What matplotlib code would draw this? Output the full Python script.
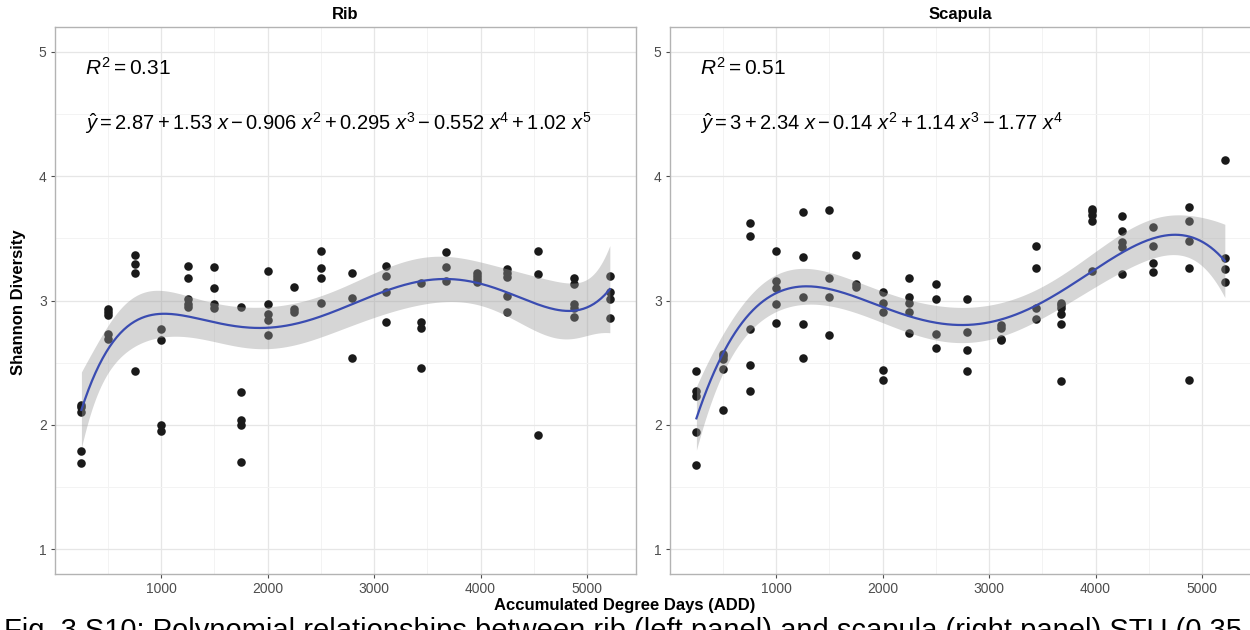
import numpy as np
import matplotlib
matplotlib.use("Agg")
import matplotlib.pyplot as plt
from matplotlib.ticker import MultipleLocator

plt.rcParams['font.family'] = ['Liberation Sans', 'DejaVu Sans']
plt.rcParams['mathtext.fontset'] = 'custom'
plt.rcParams['mathtext.rm'] = 'Liberation Sans'
plt.rcParams['mathtext.it'] = 'Liberation Sans:italic'
plt.rcParams['mathtext.bf'] = 'Liberation Sans:bold'

# sampling points (accumulated degree days)
add = [250, 500, 750, 1000, 1250, 1500, 1750, 2000, 2250, 2500,
       2790, 3110, 3445, 3675, 3970, 4245, 4540, 4875, 5215]

# Shannon diversity per sampling point
rib = [
    [2.16, 2.14, 2.10, 1.79, 1.69],
    [2.93, 2.91, 2.88, 2.73, 2.69],
    [3.37, 3.29, 3.22, 2.43],
    [2.77, 2.68, 2.00, 1.95],
    [3.28, 3.18, 3.01, 2.97, 2.95],
    [3.27, 3.10, 2.97, 2.94],
    [2.95, 2.26, 2.04, 2.00, 1.70],
    [3.24, 2.97, 2.89, 2.84, 2.72],
    [3.11, 2.93, 2.91],
    [3.40, 3.26, 3.18, 2.98],
    [3.22, 3.02, 2.54],
    [3.28, 3.20, 3.07, 2.83],
    [3.14, 2.83, 2.78, 2.46],
    [3.39, 3.27, 3.16],
    [3.22, 3.20, 3.17, 3.15],
    [3.25, 3.22, 3.19, 3.04, 2.91],
    [3.40, 3.21, 1.92],
    [3.18, 3.13, 2.97, 2.94, 2.87],
    [3.20, 3.07, 3.01, 2.86],
]

scapula = [
    [2.43, 2.27, 2.23, 1.94, 1.68],
    [2.57, 2.55, 2.53, 2.45, 2.12],
    [3.62, 3.52, 2.77, 2.48, 2.27],
    [3.40, 3.16, 3.10, 2.97, 2.82],
    [3.71, 3.35, 3.03, 2.81, 2.54],
    [3.73, 3.18, 3.03, 2.72],
    [3.37, 3.13, 3.11],
    [3.07, 2.98, 2.91, 2.44, 2.36],
    [3.18, 3.03, 2.98, 2.91, 2.74],
    [3.13, 3.01, 2.73, 2.62],
    [3.01, 2.75, 2.60, 2.43],
    [2.80, 2.78, 2.69, 2.68],
    [3.44, 3.26, 2.94, 2.85],
    [2.98, 2.96, 2.94, 2.89, 2.81, 2.35],
    [3.74, 3.72, 3.69, 3.64, 3.24],
    [3.68, 3.56, 3.47, 3.43, 3.21],
    [3.59, 3.44, 3.30, 3.23],
    [3.75, 3.64, 3.48, 3.26, 2.36],
    [4.13, 3.34, 3.25, 3.15],
]

panels = [
    ("Rib", rib, 5, "0.31",
     r"$\hat{y} = 2.87 + 1.53\ x - 0.906\ x^2 + 0.295\ x^3 - 0.552\ x^4 + 1.02\ x^5$"),
    ("Scapula", scapula, 4, "0.51",
     r"$\hat{y} = 3 + 2.34\ x - 0.14\ x^2 + 1.14\ x^3 - 1.77\ x^4$"),
]


def flatten(groups):
    xs, ys = [], []
    for xv, vals in zip(add, groups):
        xs += [xv] * len(vals)
        ys += vals
    return np.array(xs, float), np.array(ys, float)


def poly_fit(x, y, deg, xg):
    # lm(y ~ poly(x, deg)) with 95% confidence band
    mu, sd = x.mean(), x.std()
    X = np.vander((x - mu) / sd, deg + 1)
    Xg = np.vander((xg - mu) / sd, deg + 1)
    beta, *_ = np.linalg.lstsq(X, y, rcond=None)
    resid = y - X @ beta
    dof = len(y) - (deg + 1)
    s2 = resid @ resid / dof
    cov = s2 * np.linalg.inv(X.T @ X)
    fit = Xg @ beta
    se = np.sqrt(np.einsum('ij,jk,ik->i', Xg, cov, Xg))
    return fit, fit - 1.99 * se, fit + 1.99 * se


fig = plt.figure(figsize=(12.5, 6.3), dpi=100)
lefts = [0.044, 0.536]
for left, (name, groups, deg, r2, eq) in zip(lefts, panels):
    ax = fig.add_axes([left, 0.089, 0.465, 0.868])
    x, y = flatten(groups)
    ax.scatter(x, y, s=38, color='#1a1a1a', linewidths=0, zorder=2)

    xg = np.linspace(x.min(), x.max(), 300)
    fit, lo, hi = poly_fit(x, y, deg, xg)
    ax.fill_between(xg, lo, hi, color='#999999', alpha=0.4, linewidth=0, zorder=3)
    ax.plot(xg, fit, color='#3a4cb1', lw=1.6, zorder=4)

    span = x.max() - x.min()
    ax.set_xlim(x.min() - 0.05 * span, x.max() + 0.05 * span)
    ax.set_ylim(0.8, 5.2)
    ax.xaxis.set_major_locator(MultipleLocator(1000))
    ax.xaxis.set_minor_locator(MultipleLocator(500))
    ax.yaxis.set_major_locator(MultipleLocator(1))
    ax.yaxis.set_minor_locator(MultipleLocator(0.5))
    ax.grid(which='major', color='#e6e6e6', lw=0.9, zorder=0)
    ax.grid(which='minor', color='#f3f3f3', lw=0.7, zorder=0)
    ax.set_axisbelow(True)
    ax.tick_params(which='major', length=3, color='#4d4d4d', labelcolor='#4d4d4d',
                   labelsize=10, pad=3)
    ax.tick_params(which='minor', length=0)
    for sp in ax.spines.values():
        sp.set_color('#b3b3b3')
        sp.set_linewidth(1.0)

    ax.set_title(name, fontsize=12, fontweight='bold', pad=6)
    ax.text(0.052, 0.925, r"$R^2 = $" + r2, transform=ax.transAxes,
            fontsize=15, va='center', ha='left')
    ax.text(0.052, 0.824, eq, transform=ax.transAxes,
            fontsize=14.5, va='center', ha='left')

fig.text(0.015, 0.52, "Shannon Diversity", rotation=90, fontsize=12,
         fontweight='bold', ha='center', va='center')
fig.text(0.5, 0.039, "Accumulated Degree Days (ADD)", fontsize=12,
         fontweight='bold', ha='center', va='center')
# figure caption, cut by the bottom edge as in the source page
fig.text(0.003, 0.021, "Fig. 3.S10: Polynomial relationships between rib (left panel) "
         "and scapula (right panel) STU (0.35",
         fontsize=21, ha='left', va='top')

fig.savefig("out.png", dpi=100)
